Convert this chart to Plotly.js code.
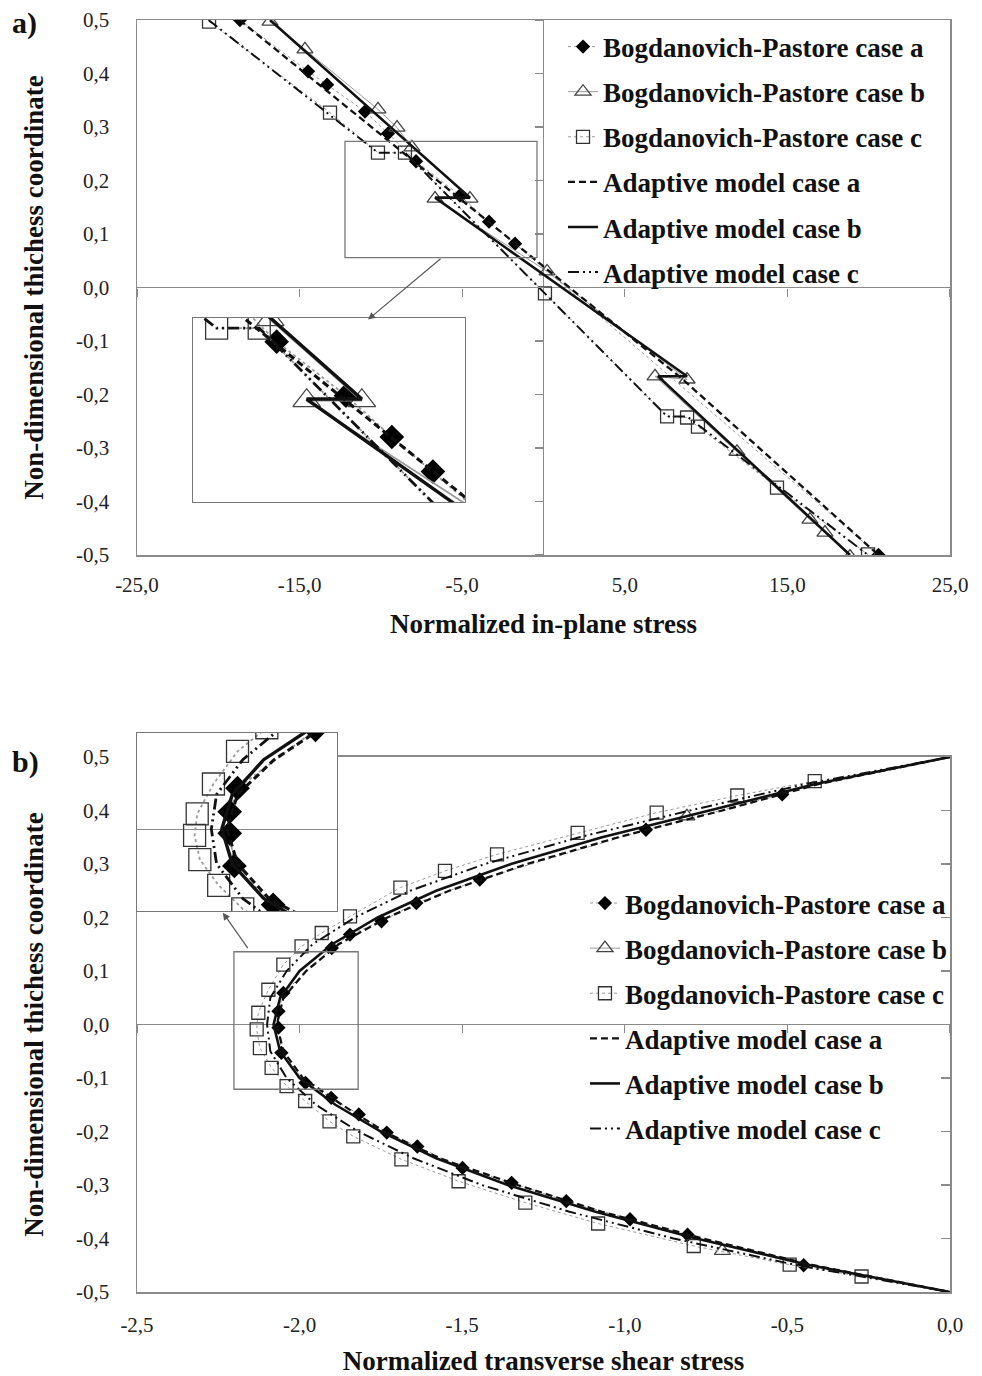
<!DOCTYPE html>
<html><head><meta charset="utf-8">
<script src="https://cdn.plot.ly/plotly-3.0.1.min.js"></script>
<style>html,body{margin:0;padding:0;background:#fff}#chart{width:982px;height:1376px}</style>
</head><body><div id="chart"></div>
<script>
// ---------- names & tick labels ----------
const names = ['Bogdanovich-Pastore case a','Bogdanovich-Pastore case b','Bogdanovich-Pastore case c',
               'Adaptive model case a','Adaptive model case b','Adaptive model case c'];
const aTickVals = [-25,-15,-5,5,15,25];
const aTickText = ['-25,0','-15,0','-5,0','5,0','15,0','25,0'];
const yTickVals = [0.5,0.4,0.3,0.2,0.1,0,-0.1,-0.2,-0.3,-0.4,-0.5];
const yTickText = ['0,5','0,4','0,3','0,2','0,1','0,0','-0,1','-0,2','-0,3','-0,4','-0,5'];
const bTickVals = [-2.5,-2,-1.5,-1,-0.5,0];
const bTickText = ['-2,5','-2,0','-1,5','-1,0','-0,5','0,0'];

// ---------- panel a : normalized in-plane stress ----------
const aBPa_x = [-18.67,-14.48,-13.31,-10.98,-9.56,-7.84,-5.14,-3.35,-1.75,20.6];
const aBPa_y = [0.5,0.404,0.379,0.329,0.288,0.236,0.172,0.123,0.082,-0.5];
const aBPb_x = [-16.82,-14.67,-10.18,-9.01,-8.09,-4.52,-6.67,0.22,8.83,6.86,11.9,16.39,17.31,18.85];
const aBPb_y = [0.497,0.445,0.333,0.299,0.262,0.166,0.166,0.030,-0.172,-0.166,-0.307,-0.434,-0.458,-0.503];
const aBPc_x = [-20.57,-13.13,-10.18,-8.52,0.09,7.6,8.83,9.5,14.36,19.96];
const aBPc_y = [0.497,0.327,0.252,0.252,-0.011,-0.241,-0.243,-0.26,-0.374,-0.499];
const aAMa_x = [-18.7,-1.75,8.5,20.6];
const aAMa_y = [0.5,0.082,-0.17,-0.5];
const aAMb_x = [-16.82,-4.52,-6.67,8.83,7.04,18.85];
const aAMb_y = [0.5,0.168,0.168,-0.166,-0.166,-0.5];
const aAMc_x = [-20.6,-10.18,-8.52,7.6,8.83,19.96];
const aAMc_y = [0.5,0.252,0.252,-0.241,-0.241,-0.5];

// ---------- panel b : normalized transverse shear stress ----------
const bBPa_x = [-0.516,-0.935,-1.446,-1.641,-1.748,-1.845,-1.901,-2.05,-2.065,-2.065,-2.056,-1.982,-1.903,-1.818,-1.732,-1.638,-1.499,-1.348,-1.18,-0.984,-0.807,-0.45];
const bBPa_y = [0.430,0.364,0.271,0.227,0.193,0.168,0.143,0.059,0.025,-0.006,-0.053,-0.109,-0.137,-0.168,-0.202,-0.228,-0.268,-0.296,-0.330,-0.364,-0.393,-0.450];
const bBPb_x = [-0.809,null,-0.70];
const bBPb_y = [0.389,null,-0.423];
const bBPc_x = [-0.416,-0.654,-0.902,-1.145,-1.393,-1.553,-1.69,-1.845,-1.932,-1.994,-2.05,-2.096,-2.127,-2.132,-2.122,-2.086,-2.04,-1.983,-1.908,-1.835,-1.687,-1.511,-1.306,-1.082,-0.788,-0.493,-0.272];
const bBPc_y = [0.455,0.428,0.396,0.358,0.318,0.287,0.256,0.202,0.171,0.146,0.112,0.065,0.022,-0.009,-0.044,-0.081,-0.115,-0.143,-0.181,-0.209,-0.252,-0.293,-0.333,-0.372,-0.414,-0.449,-0.471];
const bY   = [0.5,0.45,0.40,0.35,0.30,0.25,0.20,0.15,0.10,0.05,0.0,-0.05,-0.10,-0.15,-0.20,-0.25,-0.30,-0.35,-0.40,-0.45,-0.5];
const bAMa_x = [0,-0.40,-0.70,-1.02,-1.30,-1.54,-1.73,-1.88,-1.98,-2.05,-2.07,-2.05,-1.99,-1.87,-1.74,-1.57,-1.33,-1.07,-0.76,-0.42,0];
const bAMb_x = [0,-0.41,-0.74,-1.07,-1.35,-1.58,-1.76,-1.90,-2.00,-2.06,-2.08,-2.06,-2.00,-1.89,-1.75,-1.58,-1.36,-1.09,-0.78,-0.43,0];
const bAMc_x = [0,-0.44,-0.80,-1.14,-1.43,-1.66,-1.83,-1.96,-2.04,-2.09,-2.10,-2.09,-2.04,-1.95,-1.82,-1.65,-1.44,-1.17,-0.85,-0.47,0];

// zoom windows (data coordinates) and arrows
const aZoomX = [-12.21,-0.40], aZoomY = [0.056,0.273];
const bZoomX = [-2.202,-1.820], bZoomY = [-0.121,0.136];
const aInsetX = [-11.1,-0.5], aInsetY = [0.046,0.264];
const bInsetX = [-2.242,-1.86], bInsetY = [-0.118,0.1385];
const aArrow = {head:[-10.79,-0.06], tail:[-6.24,0.056]};
const bArrow = {head:[-2.236,0.209], tail:[-2.156,0.140]};

// ---------- styles ----------
const traceStyles = [
  {mode:'lines+markers', marker:{symbol:'diamond', color:'#000', size:11}, line:{color:'#9a9a9a', width:1, dash:'dot'}},
  {mode:'lines+markers', marker:{symbol:'triangle-up-open', color:'#444', size:14, line:{width:1.3}}, line:{color:'#9a9a9a', width:1}},
  {mode:'lines+markers', marker:{symbol:'square-open', color:'#333', size:13, line:{width:1.3}}, line:{color:'#9a9a9a', width:1, dash:'dot'}},
  {mode:'lines', line:{color:'#111', width:2.3, dash:'7px,4px'}},
  {mode:'lines', line:{color:'#111', width:2.6}},
  {mode:'lines', line:{color:'#111', width:2, dash:'11px,4px,2px,4px,2px,4px'}}
];
function build(xs, ys, xa, ya, legendId, big) {
  return xs.map((x, i) => {
    const st = JSON.parse(JSON.stringify(traceStyles[i]));
    if (big) {
      if (st.marker) st.marker.size = Math.round(st.marker.size * 1.7);
      st.line.width += 0.8;
    }
    return Object.assign({type:'scatter', x:x, y:ys[i], xaxis:xa, yaxis:ya, name:names[i], connectgaps:false,
      legendgroup:'g'+i, showlegend:!big, legend:legendId, hoverinfo:'skip', cliponaxis:true}, st);
  });
}
const aXs = [aBPa_x,aBPb_x,aBPc_x,aAMa_x,aAMb_x,aAMc_x];
const aYs = [aBPa_y,aBPb_y,aBPc_y,aAMa_y,aAMb_y,aAMc_y];
const bXs = [bBPa_x,bBPb_x,bBPc_x,bAMa_x,bAMb_x,bAMc_x];
const bYs = [bBPa_y,bBPb_y,bBPc_y,bY,bY,bY];

const data = [].concat(
  build(aXs, aYs, 'x', 'y', 'legend', false),
  build(bXs, bYs, 'x2', 'y2', 'legend2', false),
  build(aXs, aYs, 'x3', 'y3', 'legend', true),
  build(bXs, bYs, 'x4', 'y4', 'legend2', true),
  [{type:'scatter', x:[null], y:[null], xaxis:'x5', yaxis:'y5', showlegend:false, hoverinfo:'skip'},
   {type:'scatter', x:[null], y:[null], xaxis:'x6', yaxis:'y6', showlegend:false, hoverinfo:'skip'}]
);

const FAM = 'Liberation Serif';
const tickFont = {family:FAM, size:21, color:'#222'};
const titleFont = {family:FAM, size:27, color:'#111', weight:'bold'};
const GREY = '#8a8a8a';
const mainAx = {showline:true, mirror:true, linecolor:GREY, linewidth:1.5, ticks:'', showgrid:false,
  zeroline:true, zerolinecolor:GREY, zerolinewidth:1.3, tickfont:tickFont, fixedrange:true};
const insetAx = {showline:true, mirror:true, linecolor:'#777', linewidth:1.3, ticks:'', showgrid:false,
  showticklabels:false, zeroline:false, fixedrange:true};
const tickAx = {showline:false, showgrid:false, zeroline:false, showticklabels:false, tickcolor:GREY, tickwidth:1.3, fixedrange:true};

const yA0 = (0.5794 + 1) / 2, yB0 = 0.4206 / 2;
const legFont = {family:FAM, size:27, color:'#111', weight:'bold'};
const layout = {
  width:982, height:1376, paper_bgcolor:'#fff', plot_bgcolor:'#fff',
  margin:{l:137, r:32, t:20, b:84},
  font:{family:FAM},
  showlegend:true,
  xaxis: Object.assign({}, mainAx, {domain:[0,1], range:[-25,25], anchor:'y', tickmode:'array', tickvals:aTickVals, ticktext:aTickText,
    ticklabelstandoff:10, title:{text:'Normalized in-plane stress', font:titleFont, standoff:18}}),
  yaxis: Object.assign({}, mainAx, {domain:[0.5794,1], range:[-0.5,0.5], anchor:'x', tickmode:'array', tickvals:yTickVals, ticktext:yTickText,
    ticklabelstandoff:22, title:{text:'Non-dimensional thichess coordinate', font:titleFont, standoff:24}}),
  xaxis2: Object.assign({}, mainAx, {domain:[0,1], range:[-2.5,0], anchor:'y2', tickmode:'array', tickvals:bTickVals, ticktext:bTickText,
    ticklabelstandoff:13, title:{text:'Normalized transverse shear stress', font:titleFont, standoff:15}}),
  yaxis2: Object.assign({}, mainAx, {domain:[0,0.4206], range:[-0.5,0.5], anchor:'x2', tickmode:'array', tickvals:yTickVals, ticktext:yTickText,
    ticklabelstandoff:22, title:{text:'Non-dimensional thichess coordinate', font:titleFont, standoff:24}}),
  xaxis3: Object.assign({}, insetAx, {domain:[0.0689,0.4034], range:aInsetX, anchor:'y3'}),
  yaxis3: Object.assign({}, insetAx, {domain:[0.6211,0.7657], range:aInsetY, anchor:'x3'}),
  xaxis4: Object.assign({}, insetAx, {domain:[0,0.246], range:bInsetX, anchor:'y4'}),
  yaxis4: Object.assign({}, insetAx, {domain:[0.2995,0.4395], range:bInsetY, anchor:'x4', zeroline:true, zerolinecolor:GREY, zerolinewidth:1.2}),
  xaxis5: Object.assign({}, tickAx, {overlaying:'x', anchor:'free', position:yA0, side:'bottom', range:[-25,25],
    tickmode:'array', tickvals:aTickVals, ticks:'outside', ticklen:8}),
  yaxis5: Object.assign({}, tickAx, {overlaying:'y', anchor:'free', position:0.5, side:'left', range:[-0.5,0.5],
    tickmode:'array', tickvals:yTickVals, ticks:'outside', ticklen:9}),
  xaxis6: Object.assign({}, tickAx, {overlaying:'x2', anchor:'free', position:yB0, side:'bottom', range:[-2.5,0],
    tickmode:'array', tickvals:bTickVals, ticks:'outside', ticklen:8}),
  yaxis6: Object.assign({}, tickAx, {overlaying:'y2', anchor:'free', position:1, side:'right', range:[-0.5,0.5],
    tickmode:'array', tickvals:yTickVals, ticks:'inside', ticklen:9}),
  legend: {x:0.524, xanchor:'left', y:0.998, yanchor:'top', bgcolor:'rgba(0,0,0,0)', borderwidth:0,
    font:legFont, tracegroupgap:7, itemclick:false, itemdoubleclick:false},
  legend2: {x:0.551, xanchor:'left', y:0.3247, yanchor:'top', bgcolor:'rgba(0,0,0,0)', borderwidth:0,
    font:legFont, tracegroupgap:7, itemclick:false, itemdoubleclick:false},
  shapes: [
    {type:'rect', xref:'x', yref:'y', x0:aZoomX[0], x1:aZoomX[1], y0:aZoomY[0], y1:aZoomY[1], line:{color:'#777', width:1.3}},
    {type:'rect', xref:'x2', yref:'y2', x0:bZoomX[0], x1:bZoomX[1], y0:bZoomY[0], y1:bZoomY[1], line:{color:'#777', width:1.3}}
  ],
  annotations: [
    {xref:'paper', yref:'paper', x:-0.156, y:0.998, xanchor:'left', yanchor:'middle', showarrow:false,
     text:'<b>a)</b>', font:{family:FAM, size:30, color:'#111'}},
    {xref:'paper', yref:'paper', x:-0.156, y:0.4167, xanchor:'left', yanchor:'middle', showarrow:false,
     text:'<b>b)</b>', font:{family:FAM, size:30, color:'#111'}},
    {xref:'x', yref:'y', x:aArrow.head[0], y:aArrow.head[1], axref:'x', ayref:'y', ax:aArrow.tail[0], ay:aArrow.tail[1],
     text:'', showarrow:true, arrowhead:2, arrowsize:1.2, arrowwidth:1.2, arrowcolor:'#555'},
    {xref:'x2', yref:'y2', x:bArrow.head[0], y:bArrow.head[1], axref:'x2', ayref:'y2', ax:bArrow.tail[0], ay:bArrow.tail[1],
     text:'', showarrow:true, arrowhead:2, arrowsize:1.2, arrowwidth:1.2, arrowcolor:'#555'}
  ]
};
Plotly.newPlot('chart', data, layout, {staticPlot:true, displayModeBar:false});
</script>
</body></html>
